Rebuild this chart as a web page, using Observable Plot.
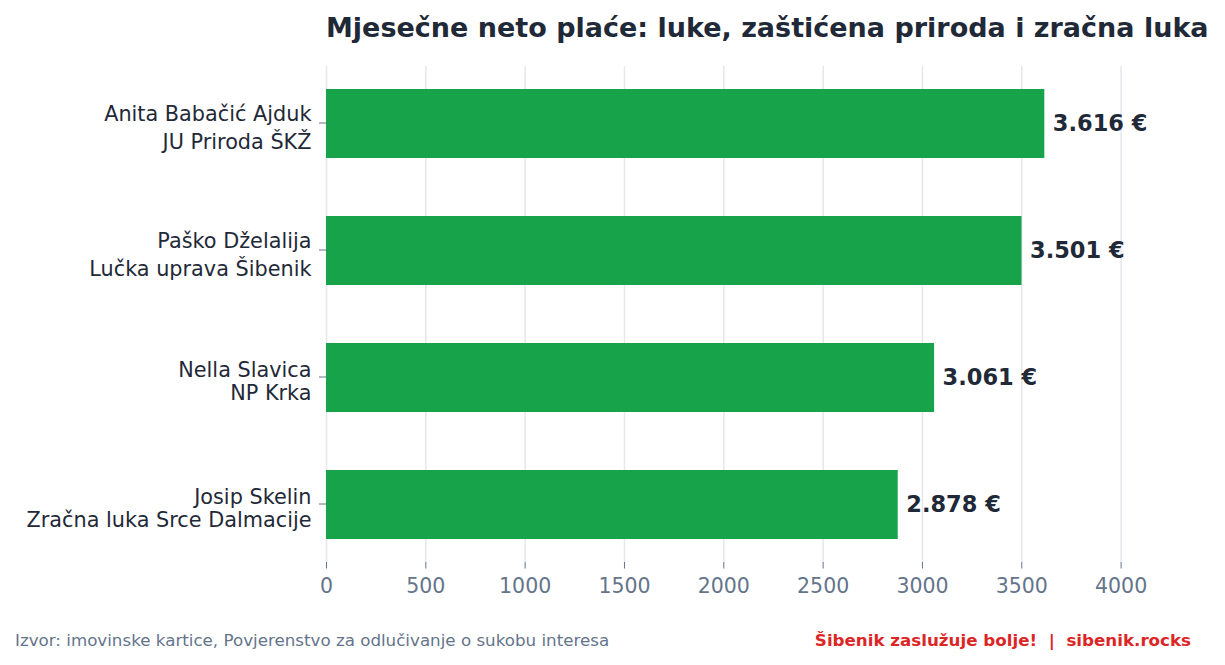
<!DOCTYPE html>
<html>
<head>
<meta charset="utf-8">
<script src="https://cdn.jsdelivr.net/npm/d3@7"></script>
<script src="https://cdn.jsdelivr.net/npm/@observablehq/plot@0.6"></script>
<style>
  html, body { margin: 0; padding: 0; background: #fff; }
  body { font-family: "DejaVu Sans", sans-serif; }
  #wrap { position: relative; width: 1225px; height: 665px; overflow: hidden; }
  #title { position: absolute; left: 326px; top: 14px; font-size: 27px; line-height: 27px; font-weight: bold; color: #1f2937; white-space: nowrap; }
  #chart { position: absolute; left: 0; top: 0; }
  .foot { position: absolute; top: 632px; font-size: 16.7px; line-height: 17px; white-space: nowrap; }
  #src { left: 15px; color: #64748b; }
  #brand { right: 34px; color: #dc2626; font-weight: bold; }
</style>
</head>
<body>
<div id="wrap">
  <div id="chart"></div>
  <div id="title">Mjesečne neto plaće: luke, zaštićena priroda i zračna luka</div>
  <div class="foot" id="src">Izvor: imovinske kartice, Povjerenstvo za odlučivanje o sukobu interesa</div>
  <div class="foot" id="brand">Šibenik zaslužuje bolje!&nbsp; | &nbsp;sibenik.rocks</div>
</div>
<script>
const names = ["Anita Babačić Ajduk", "Paško Dželalija", "Nella Slavica", "Josip Skelin"];
const orgs = ["JU Priroda ŠKŽ", "Lučka uprava Šibenik", "NP Krka", "Zračna luka Srce Dalmacije"];
const salaries = [3616, 3501, 3061, 2878];
const xTicks = [0, 500, 1000, 1500, 2000, 2500, 3000, 3500, 4000];

const data = names.map((n, i) => ({name: n, org: orgs[i], label: n + " | " + orgs[i], value: salaries[i]}));
const labels = data.map(d => d.label);
const fmt = v => d3.format(",")(v).replace(/,/g, ".") + " €";
// labels whose second line has capitals with a caron get a taller line box
const tall = d => /[ŠŽČĆĐ]/.test(d.org);
const tallRows = data.filter(tall);
const normalRows = data.filter(d => !tall(d));

const labelStyle = {y: "label", frameAnchor: "left", textAnchor: "end", dx: -15, lineAnchor: "bottom", fontSize: 20.8, fill: "#1f2937"};

const chart = Plot.plot({
  width: 1225,
  height: 665,
  marginLeft: 326,
  marginRight: 73,
  marginTop: 66,
  marginBottom: 103,
  style: {fontFamily: "DejaVu Sans", background: "#fff"},
  x: {domain: [0, 4158]},
  y: {domain: labels, paddingInner: 0.457, paddingOuter: 0.177},
  marks: [
    Plot.gridX(xTicks, {stroke: "#e5e7eb", strokeOpacity: 1, strokeWidth: 1.5}),
    Plot.barX(data, {x: "value", y: "label", fill: "#16a34a"}),
    Plot.text(data, {x: "value", y: "label", text: d => fmt(d.value), textAnchor: "start", dx: 8, fontSize: 22.5, fontWeight: "bold", fill: "#1f2937"}),
    Plot.axisX(xTicks, {tickSize: 6.5, tickPadding: 9, fontSize: 20.5, color: "#64748b", stroke: "#64748b", tickFormat: d => String(d), label: null}),
    Plot.axisY({tickSize: 7, dy: -1, tickFormat: () => "", stroke: "#64748b", label: null}),
    Plot.text(tallRows, {...labelStyle, text: "name", dy: -3}),
    Plot.text(tallRows, {...labelStyle, text: "org", dy: 25.3}),
    Plot.text(normalRows, {...labelStyle, text: "name", dy: -1.5}),
    Plot.text(normalRows, {...labelStyle, text: "org", dy: 22})
  ]
});
document.getElementById("chart").appendChild(chart);
</script>
</body>
</html>
